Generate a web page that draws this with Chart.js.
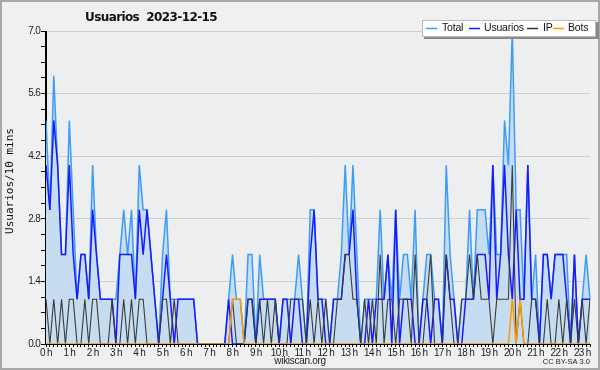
<!DOCTYPE html>
<html><head><meta charset="utf-8">
<script src="https://cdn.jsdelivr.net/npm/chart.js@4/dist/chart.umd.min.js"></script>
<style>html,body{margin:0;padding:0;background:#f0f0f0;}canvas{display:block;}</style>
</head><body>
<canvas id="c" width="600" height="370"></canvas>
<script>
const hourLabels = ['0 h','1 h','2 h','3 h','4 h','5 h','6 h','7 h','8 h','9 h','10 h','11 h','12 h','13 h','14 h','15 h','16 h','17 h','18 h','19 h','20 h','21 h','22 h','23 h'];
const yTickLabels = ['0.0','1.4','2.8','4.2','5.6','7.0'];
const usuarios = [4,3,5,4,2,2,4,2,1,2,2,1,3,2,1,1,1,1,0,2,2,2,2,1,3,2,3,2,1,0,1,2,1,0,1,1,1,1,1,0,0,0,0,0,0,0,0,1,0,0,0,0,1,1,0,1,1,1,1,1,0,1,1,0,1,1,0,0,2,3,1,1,0,0,1,1,1,2,2,3,1,0,0,1,0,1,1,1,2,0,3,0,1,1,1,0,0,1,1,0,1,1,0,2,1,1,0,0,1,1,1,2,2,2,1,4,1,2,4,2,1,3,1,1,4,1,1,0,2,2,1,2,2,2,1,0,2,0,1,1,1];
const ip       = [1,0,1,0,1,0,1,1,0,0,1,0,1,1,0,0,0,1,0,0,1,0,1,0,1,1,0,0,0,0,1,1,0,1,0,0,0,0,0,0,0,0,0,0,0,0,0,0,1,0,0,0,1,1,0,1,0,1,0,1,0,0,0,1,1,1,1,0,1,0,1,0,1,0,0,1,1,2,2,1,1,0,1,0,1,0,2,0,1,1,0,1,1,1,0,2,0,0,1,2,0,0,0,2,1,0,0,1,1,2,1,2,1,1,1,0,1,1,1,1,4,0,1,0,0,1,1,0,0,1,0,0,1,0,1,0,1,0,1,0,1];
const bots     = [0,0,0,0,0,0,0,0,0,0,0,0,0,0,0,0,0,0,0,0,0,0,0,0,0,0,0,0,0,0,0,0,0,0,0,0,0,0,0,0,0,0,0,0,0,0,0,0,1,1,1,0,0,0,0,0,0,0,0,0,0,0,0,0,0,0,0,0,0,0,0,0,0,0,0,0,0,0,0,0,0,0,0,0,0,0,0,0,0,0,0,0,0,0,0,0,0,0,0,0,0,0,0,0,0,0,0,0,0,0,0,0,0,0,0,0,0,0,0,0,1,0,1,0,0,0,0,0,0,0,0,0,0,0,0,0,0,0,0,0,0];
const total    = [5,3,6,4,2,2,5,3,1,2,2,1,4,2,1,1,1,1,1,2,3,2,3,1,4,3,3,2,1,0,2,3,1,1,1,1,1,1,1,0,0,0,0,0,0,0,0,1,2,1,1,0,2,2,0,2,1,1,1,1,0,1,1,1,1,2,1,0,3,3,1,1,1,0,1,1,2,4,2,4,2,0,1,1,1,1,3,1,2,1,3,1,2,2,1,3,0,1,2,2,1,1,0,4,2,1,0,1,1,3,1,3,3,3,2,4,2,2,5,4,7,3,3,1,4,1,2,0,2,2,1,2,2,2,2,0,2,0,1,2,1];
const slots = total.map((_, i) => String(Math.floor(i / 6)).padStart(2, '0') + ':' + String((i % 6) * 10).padStart(2, '0'));

const F = "'Liberation Sans', 'DejaVu Sans', sans-serif";

const deco = {
  id: 'deco',
  beforeDraw(chart) {
    const c = chart.ctx, a = chart.chartArea;
    c.fillStyle = '#f0f0f0';
    c.fillRect(0, 0, 600, 370);
    c.fillStyle = '#eceef0';
    c.fillRect(a.left, a.top, a.right - a.left, a.bottom - a.top);
    c.letterSpacing = '-0.7px';
  },
  afterDatasetsDraw(chart) {
    const c = chart.ctx, a = chart.chartArea;
    c.save();
    c.strokeStyle = '#000'; c.lineWidth = 1;
    c.beginPath();
    c.moveTo(a.left - 0.5, a.top); c.lineTo(a.left - 0.5, a.bottom + 0.5); c.lineTo(a.right, a.bottom + 0.5);
    c.stroke();
    c.restore();
  },
  afterDraw(chart) {
    const c = chart.ctx;
    c.save();
    c.letterSpacing = '0px';
    c.strokeStyle = '#a8a8a8'; c.lineWidth = 2;
    c.strokeRect(1, 1, 598, 368);
    c.fillStyle = '#111';
    c.font = "bold 12px 'DejaVu Sans', sans-serif";
    c.letterSpacing = '-0.6px';
    c.textBaseline = 'middle'; c.textAlign = 'left';
    c.fillText('Usuarios  2023-12-15', 85, 18);
    c.letterSpacing = '0px';
    // y axis title
    c.save();
    c.translate(10.5, 181);
    c.rotate(-Math.PI / 2);
    c.textAlign = 'center';
    c.font = "11px 'DejaVu Sans Mono', monospace";
    c.fillText('Usuarios/10 mins', 0, 0);
    c.restore();
    // legend
    c.fillStyle = '#8a8a8a';
    c.fillRect(424, 22, 175, 17);
    c.fillStyle = '#ffffff';
    c.fillRect(422, 20, 174, 17);
    c.strokeStyle = '#bbbbbb'; c.lineWidth = 1;
    c.strokeRect(422.5, 20.5, 173, 16);
    const items = [['Total', '#3d9cf5', 426, 442], ['Usuarios', '#1a1aff', 469, 484], ['IP', '#333333', 527, 543], ['Bots', '#ff9900', 553, 568]];
    c.font = "10.5px " + F;
    c.letterSpacing = '-0.2px';
    for (const [t, col, lx, tx] of items) {
      c.strokeStyle = col; c.lineWidth = 1.5;
      c.beginPath(); c.moveTo(lx, 28.5); c.lineTo(lx + 11, 28.5); c.stroke();
      c.fillStyle = '#111';
      c.fillText(t, tx, 28.5);
    }
    c.font = "10px " + F;
    c.letterSpacing = '-0.3px';
    c.textAlign = 'center';
    c.fillStyle = '#222';
    c.fillText('wikiscan.org', 300, 361);
    c.font = "7.5px " + F;
    c.letterSpacing = '0px';
    c.textAlign = 'right';
    c.fillText('CC BY-SA 3.0', 590, 362);
    c.restore();
  }
};

new Chart(document.getElementById('c'), {
  type: 'line',
  data: {
    labels: slots,
    datasets: [
      {label: 'Total', data: total, borderColor: '#3d9cf5', backgroundColor: '#c6dcf0', fill: 'origin', borderWidth: 1.5, order: 4},
      {label: 'Usuarios', data: usuarios, borderColor: '#1a1aff', borderWidth: 1.5, fill: false, order: 3},
      {label: 'IP', data: ip, borderColor: '#3a3a3a', borderWidth: 1.1, fill: false, order: 2},
      {label: 'Bots', data: bots, borderColor: '#ff9900', borderWidth: 1.5, fill: false, order: 1}
    ]
  },
  options: {
    responsive: false, animation: false, devicePixelRatio: 1,
    layout: {padding: {left: 0, top: 31, right: 10, bottom: 0}},
    plugins: {legend: {display: false}, title: {display: false}, tooltip: {enabled: false}},
    elements: {point: {radius: 0}, line: {tension: 0}},
    scales: {
      x: {
        type: 'category', offset: false,
        grid: {drawOnChartArea: false, drawTicks: true, tickLength: 3, tickColor: '#000'},
        border: {color: '#000'},
        ticks: {autoSkip: false, maxRotation: 0, minRotation: 0, padding: 0, color: '#222', font: {family: F, size: 10},
          callback: (v, i) => i % 6 === 0 ? hourLabels[i / 6] : ''},
        afterFit: s => { s.height = 26; }
      },
      y: {
        min: 0, max: 7,
        ticks: {stepSize: 0.35, autoSkip: false, padding: 1, color: '#222', font: {family: F, size: 10},
          callback: (v, i) => i % 4 === 0 ? yTickLabels[i / 4] : ''},
        grid: {color: ctx => (ctx.index % 4 === 0 && ctx.index > 0) ? '#cfcfcf' : 'rgba(0,0,0,0)', tickColor: '#000', tickLength: 5},
        border: {color: '#000'},
        afterFit: s => { s.width = 46; }
      }
    }
  },
  plugins: [deco]
});
</script>
</body></html>
